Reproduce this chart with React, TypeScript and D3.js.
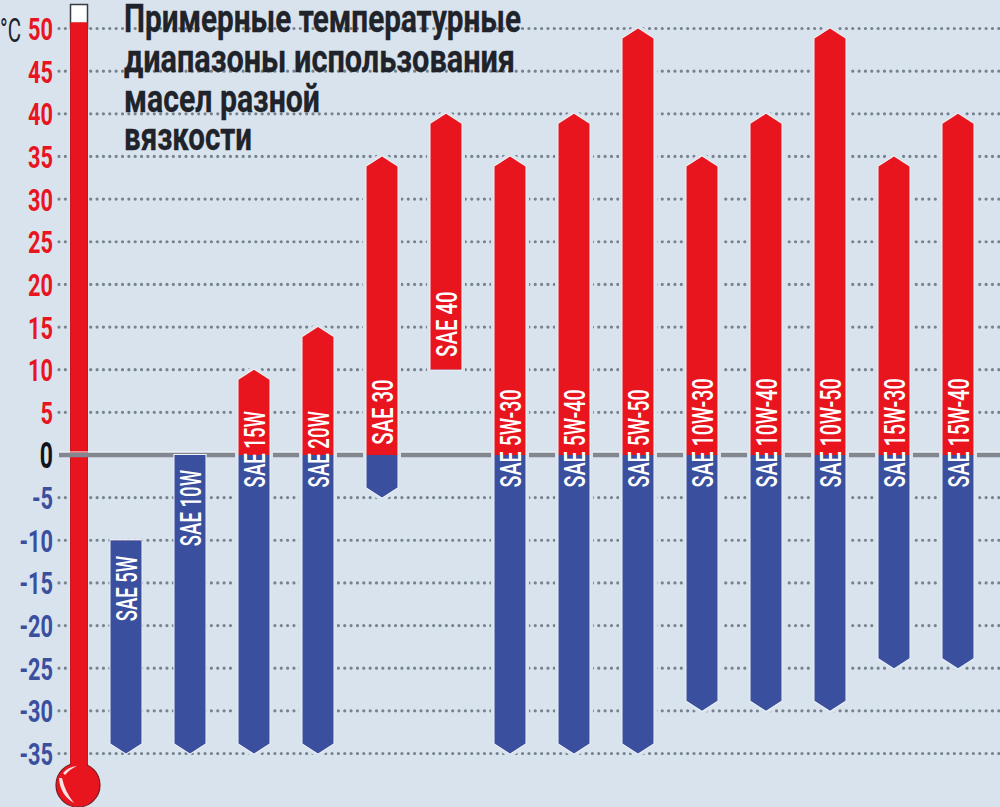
import React from 'react';
import * as d3 from 'd3';

const grades = ['SAE 5W', 'SAE 10W', 'SAE 15W', 'SAE 20W', 'SAE 30', 'SAE 40', 'SAE 5W-30', 'SAE 5W-40', 'SAE 5W-50', 'SAE 10W-30', 'SAE 10W-40', 'SAE 10W-50', 'SAE 15W-30', 'SAE 15W-40'];
const minTemps = [-35, -35, -35, -35, -5, 10, -35, -35, -35, -30, -30, -30, -25, -25];
const maxTemps = [-10, 0, 10, 15, 35, 40, 35, 40, 50, 35, 40, 50, 35, 40];
const ticks = [50, 45, 40, 35, 30, 25, 20, 15, 10, 5, 0, -5, -10, -15, -20, -25, -30, -35];
const titleLines = ['Примерные температурные', 'диапазоны использования', 'масел разной', 'вязкости'];

const RED = '#e8151f';
const BLUE = '#3a4f9e';
const BG = '#d9e3ee';
const INK = '#20242a';
const FONT = 'Roboto, sans-serif';

const width = 1000;
const height = 807;
const y = d3.scaleLinear().domain([50, -35]).range([28.5, 753.5]);
const x = d3.scaleBand<string>().domain(grades).range([94, 990]).paddingInner(0.516).paddingOuter(0.258);
const notch = 10;

// pointed end unless the bar stops at a flat cut
function barPath(x0: number, x1: number, top: number, bottom: number, flatTop: boolean, flatBottom: boolean) {
  const mid = (x0 + x1) / 2;
  const p = d3.path();
  if (flatTop) {
    p.moveTo(x0, top);
    p.lineTo(x1, top);
  } else {
    p.moveTo(x0, top + notch);
    p.lineTo(mid, top);
    p.lineTo(x1, top + notch);
  }
  if (flatBottom) {
    p.lineTo(x1, bottom);
    p.lineTo(x0, bottom);
  } else {
    p.lineTo(x1, bottom - notch);
    p.lineTo(mid, bottom);
    p.lineTo(x0, bottom - notch);
  }
  p.closePath();
  return p.toString();
}

// where the rotated label begins, in degrees
function labelStart(lo: number, hi: number) {
  if (hi <= -10) return (lo + hi) / 2 + 3;
  if (hi === 0) return -10.7;
  if (lo > 0) return lo + 1.5;
  if (lo === -5) return 1.2;
  return -3.8;
}

export default function App() {
  const zero = y(0);
  return (
    <svg width={width} height={height} style={{ position: 'absolute', left: 0, top: 0, background: BG }}>
      {ticks.filter(t => t !== 0).map(t => (
        <line key={t} x1={59} x2={width} y1={y(t)} y2={y(t)} stroke="#76838f" strokeWidth={3.2} strokeLinecap="round" strokeDasharray="0 6.35" />
      ))}

      {titleLines.map((line, i) => (
        <text key={line} x={124} y={[32, 72, 112, 150][i]} fontFamily={FONT} fontWeight={700} fontSize={38} fill={INK}
          stroke={INK} strokeWidth={0.3} textLength={[397, 391, 196, 128][i]} lengthAdjust="spacingAndGlyphs">{line}</text>
      ))}

      {ticks.map(t => (
        <text key={t} textAnchor="end" fontFamily={FONT} fontWeight={700} fontSize={t === 0 ? 37 : 32}
          transform={`translate(53,${y(t) + (t === 0 ? 13 : 11.5)}) scale(${t === 0 ? 0.62 : 0.68},1)`}
          fill={t > 0 ? RED : t === 0 ? '#111318' : BLUE}>{t < 0 ? `-${-t}` : t}</text>
      ))}
      <text transform="translate(0,42) scale(0.62,1)" fontFamily={FONT} fontSize={33} fill={INK}>°C</text>

      {/* thermometer */}
      <rect x={70.5} y={4.5} width={17} height={24} fill="#fff" stroke="#3a3a40" strokeWidth={1.5} />
      <rect x={70} y={y(50) - 6} width={18} height={745} fill="#c01a22" />
      <rect x={71} y={y(50) - 6} width={16} height={745} fill={RED} />
      <circle cx={78} cy={785} r={22} fill={RED} stroke="#7a1a20" strokeWidth={1.2} />
      <rect x={71} y={750} width={16} height={20} fill={RED} />
      <path d="M59 778 Q60 795 74 803 Q65 792 62 778Z" fill="#fbe3e3" />
      <path d="M63 773 Q68 767 77 766 Q70 769 65 775Z" fill="#fbe3e3" />

      <line x1={59} x2={width} y1={zero - 3} y2={zero - 3} stroke="#f4f7fa" strokeWidth={1} />
      <line x1={59} x2={width} y1={zero} y2={zero} stroke="#83878f" strokeWidth={4.5} />

      {grades.map((g, i) => {
        const x0 = x(g) as number;
        const x1 = x0 + x.bandwidth();
        const lo = minTemps[i];
        const hi = maxTemps[i];
        const flatTop = hi <= 0;
        const flatBottom = lo === 10;
        const top = y(hi);
        const bottom = y(lo);
        const splitY = Math.max(top, Math.min(bottom, zero));
        const clipRed = `red-${i}`;
        const clipBlue = `blue-${i}`;
        const shape = barPath(x0, x1, top, bottom, flatTop, flatBottom);
        return (
          <g key={g}>
            <clipPath id={clipRed}><rect x={x0 - 2} y={0} width={x.bandwidth() + 4} height={splitY} /></clipPath>
            <clipPath id={clipBlue}><rect x={x0 - 2} y={splitY} width={x.bandwidth() + 4} height={height - splitY} /></clipPath>
            <path d={shape} fill="none" stroke={BG} strokeWidth={flatTop ? 2 : 7} />
            <path d={shape} fill="none" stroke="#eef3f8" strokeWidth={1.8} />
            <path d={shape} fill={RED} clipPath={`url(#${clipRed})`} />
            <path d={shape} fill={BLUE} clipPath={`url(#${clipBlue})`} />
            <text transform={`translate(${(x0 + x1) / 2 + 10.5},${y(labelStart(lo, hi))}) rotate(-90)`}
              fontFamily={FONT} fontWeight={500} fontSize={29} fill="#fff"
              textLength={g.length * 10.9} lengthAdjust="spacingAndGlyphs">{g}</text>
          </g>
        );
      })}
    </svg>
  );
}
